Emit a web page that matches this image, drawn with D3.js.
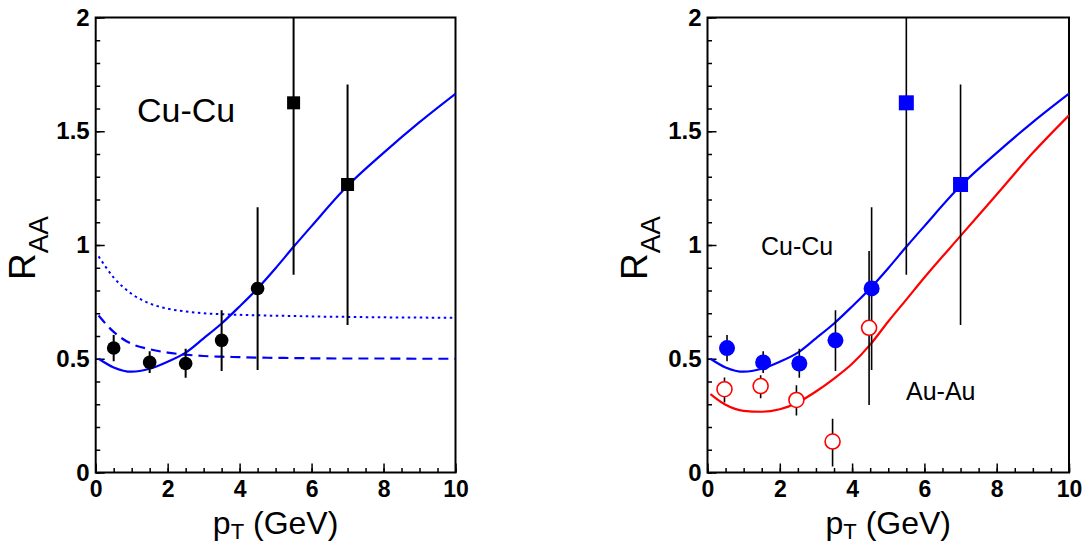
<!DOCTYPE html>
<html>
<head>
<meta charset="utf-8">
<script src="https://cdn.jsdelivr.net/npm/d3@7"></script>
<style>
  body { margin: 0; background: #fff; }
  svg { display: block; font-family: "Liberation Sans", Arial, sans-serif; }
</style>
</head>
<body>
<svg id="chart" width="1084" height="544"></svg>
<script>
// tick values
var xTicks = [0, 2, 4, 6, 8, 10];
var yTicks = [0, 0.5, 1, 1.5, 2];

// Cu-Cu data (circles: low pT, squares: high pT)
var cuPt = [0.5, 1.5, 2.5, 3.5, 4.5];
var cuPtShift = [0.54, 1.54, 2.54, 3.54, 4.54];
var cuRaa = [0.547, 0.484, 0.479, 0.581, 0.809];
var cuLo = [0.489, 0.437, 0.416, 0.446, 0.451];
var cuHi = [0.604, 0.533, 0.544, 0.713, 1.166];

var cuSqPt = [5.5, 7.0];
var cuSqRaa = [1.625, 1.266];
var cuSqLo = [0.869, 0.648];
var cuSqHi = [2.0, 1.706];

// Au-Au data (open circles)
var auPt = [0.47, 1.47, 2.46, 3.46, 4.47];
var auRaa = [0.366, 0.38, 0.319, 0.136, 0.636];
var auLo = [0.308, 0.326, 0.251, 0.026, 0.297];
var auHi = [0.418, 0.427, 0.384, 0.236, 0.974];

// model curves
var curvePt = [0.08, 0.5, 1, 1.5, 2, 2.5, 3, 3.5, 4, 4.5, 5, 5.5, 6, 7, 8, 9, 10];
var cuModel = [0.50, 0.462, 0.443, 0.456, 0.487, 0.527, 0.59, 0.655, 0.73, 0.809, 0.898, 0.992, 1.083, 1.26, 1.405, 1.54, 1.665];
var auModel = [0.345, 0.298, 0.271, 0.267, 0.278, 0.308, 0.356, 0.413, 0.478, 0.562, 0.664, 0.76, 0.857, 1.04, 1.222, 1.405, 1.57];
var dotModel = [0.95, 0.857, 0.785, 0.743, 0.72, 0.708, 0.70, 0.696, 0.693, 0.691, 0.689, 0.688, 0.686, 0.684, 0.682, 0.681, 0.68];
var dashModel = [0.69, 0.618, 0.565, 0.542, 0.527, 0.518, 0.512, 0.509, 0.507, 0.505, 0.504, 0.503, 0.502, 0.501, 0.501, 0.50, 0.50];

var svg = d3.select("#chart");
svg.append("rect").attr("width", 1084).attr("height", 544).attr("fill", "#fff");

function toPoints(xs, ys) {
    return xs.map(function(d, i) { return {x: d, y: ys[i]}; });
}

function drawPanel(id, left, right) {
    var top = 17.5, bottom = 472.5;
    var g = svg.append("g").attr("id", id);

    var x = d3.scaleLinear().domain([0, 10]).range([left, right]);
    var y = d3.scaleLinear().domain([0, 2]).range([bottom, top]);

    g.append("clipPath").attr("id", id + "-clip")
        .append("rect")
        .attr("x", left).attr("y", top)
        .attr("width", right - left).attr("height", bottom - top);

    // minor ticks
    g.append("g")
        .attr("transform", "translate(0," + bottom + ")")
        .call(d3.axisBottom(x).tickValues(d3.range(0, 10.01, 0.5)).tickSize(-4.5).tickSizeOuter(0).tickFormat(""));
    g.append("g")
        .attr("transform", "translate(" + left + ",0)")
        .call(d3.axisLeft(y).tickValues(d3.range(0, 2.001, 0.1)).tickSize(-4.5).tickSizeOuter(0).tickFormat(""));

    // major ticks + labels
    var xAxis = g.append("g")
        .attr("transform", "translate(0," + bottom + ")")
        .call(d3.axisBottom(x).tickValues(xTicks).tickSize(-9).tickSizeOuter(0).tickPadding(8).tickFormat(d3.format("d")));
    xAxis.selectAll("text").style("font-size", "23px").style("font-weight", "bold").attr("fill", "#000");

    var yAxis = g.append("g")
        .attr("transform", "translate(" + left + ",0)")
        .call(d3.axisLeft(y).tickValues(yTicks).tickSize(-9).tickSizeOuter(0).tickPadding(6).tickFormat(function(d) { return d; }));
    yAxis.selectAll("text").style("font-size", "24px").style("font-weight", "bold").attr("fill", "#000");

    g.selectAll(".tick line").attr("stroke", "#000").attr("stroke-width", 1.5);
    g.selectAll(".domain").remove();

    // frame
    g.append("rect")
        .attr("x", left).attr("y", top)
        .attr("width", right - left).attr("height", bottom - top)
        .attr("fill", "none").attr("stroke", "#000").attr("stroke-width", 2);

    // axis titles
    var ytitle = g.append("text")
        .attr("transform", "translate(" + (left - 60.5) + ",248) rotate(-90)")
        .attr("text-anchor", "middle")
        .style("font-size", "37px");
    ytitle.append("tspan").text("R");
    ytitle.append("tspan").attr("dy", 13).style("font-size", "28px").text("AA");

    var xtitle = g.append("text")
        .attr("x", (left + right) / 2)
        .attr("y", 534)
        .attr("text-anchor", "middle")
        .style("font-size", "32px");
    xtitle.append("tspan").text("p");
    xtitle.append("tspan").attr("dy", 5).style("font-size", "22px").text("T");
    xtitle.append("tspan").attr("dy", -5).text(" (GeV)");

    var plot = g.append("g").attr("clip-path", "url(#" + id + "-clip)");
    var line = d3.line()
        .x(function(d) { return x(d.x); })
        .y(function(d) { return y(d.y); })
        .curve(d3.curveMonotoneX);

    return {g: g, plot: plot, x: x, y: y, line: line};
}

function errorBars(p, xs, lo, hi, width) {
    p.plot.selectAll(null)
        .data(xs.map(function(d, i) { return {x: d, lo: lo[i], hi: hi[i]}; }))
        .enter()
        .append("line")
        .attr("x1", function(d) { return p.x(d.x); })
        .attr("x2", function(d) { return p.x(d.x); })
        .attr("y1", function(d) { return p.y(d.lo); })
        .attr("y2", function(d) { return p.y(d.hi); })
        .attr("stroke", "#000")
        .attr("stroke-width", width);
}

// ---------- left panel ----------
var L = drawPanel("left", 95.7, 455.5);

L.plot.append("path")
    .datum(toPoints(curvePt, dotModel))
    .attr("d", L.line)
    .attr("fill", "none").attr("stroke", "#0000ff").attr("stroke-width", 2)
    .attr("stroke-dasharray", "2.5,3.5");
L.plot.append("path")
    .datum(toPoints(curvePt, dashModel))
    .attr("d", L.line)
    .attr("fill", "none").attr("stroke", "#0000ff").attr("stroke-width", 2.2)
    .attr("stroke-dasharray", "10,6");
L.plot.append("path")
    .datum(toPoints(curvePt, cuModel))
    .attr("d", L.line)
    .attr("fill", "none").attr("stroke", "#0000ff").attr("stroke-width", 2.2);

errorBars(L, cuPt, cuLo, cuHi, 2);
errorBars(L, cuSqPt, cuSqLo, cuSqHi, 2);

L.plot.selectAll(".dot")
    .data(toPoints(cuPt, cuRaa))
    .enter()
    .append("circle")
    .attr("class", "dot")
    .attr("cx", function(d) { return L.x(d.x); })
    .attr("cy", function(d) { return L.y(d.y); })
    .attr("r", 6.8)
    .attr("fill", "#000");

L.plot.selectAll(".sq")
    .data(toPoints(cuSqPt, cuSqRaa))
    .enter()
    .append("rect")
    .attr("class", "sq")
    .attr("x", function(d) { return L.x(d.x) - 6.5; })
    .attr("y", function(d) { return L.y(d.y) - 6.5; })
    .attr("width", 13).attr("height", 13)
    .attr("fill", "#000");

L.g.append("text")
    .attr("x", 137).attr("y", 122)
    .style("font-size", "34px")
    .text("Cu-Cu");

// ---------- right panel ----------
var R = drawPanel("right", 707.5, 1069);

R.plot.append("path")
    .datum(toPoints(curvePt, auModel))
    .attr("d", R.line)
    .attr("fill", "none").attr("stroke", "#ff0000").attr("stroke-width", 2.2);
R.plot.append("path")
    .datum(toPoints(curvePt, cuModel))
    .attr("d", R.line)
    .attr("fill", "none").attr("stroke", "#0000ff").attr("stroke-width", 2.2);

errorBars(R, auPt, auLo, auHi, 1.6);
errorBars(R, cuPtShift, cuLo, cuHi, 1.6);
errorBars(R, cuSqPt, cuSqLo, cuSqHi, 1.6);

R.plot.selectAll(".open")
    .data(toPoints(auPt, auRaa))
    .enter()
    .append("circle")
    .attr("class", "open")
    .attr("cx", function(d) { return R.x(d.x); })
    .attr("cy", function(d) { return R.y(d.y); })
    .attr("r", 7.5)
    .attr("fill", "#fff")
    .attr("stroke", "#ff0000")
    .attr("stroke-width", 1.6);

R.plot.selectAll(".dot")
    .data(toPoints(cuPtShift, cuRaa))
    .enter()
    .append("circle")
    .attr("class", "dot")
    .attr("cx", function(d) { return R.x(d.x); })
    .attr("cy", function(d) { return R.y(d.y); })
    .attr("r", 8)
    .attr("fill", "#0000ff");

R.plot.selectAll(".sq")
    .data(toPoints(cuSqPt, cuSqRaa))
    .enter()
    .append("rect")
    .attr("class", "sq")
    .attr("x", function(d) { return R.x(d.x) - 7.5; })
    .attr("y", function(d) { return R.y(d.y) - 7.5; })
    .attr("width", 15).attr("height", 15)
    .attr("fill", "#0000ff");

R.g.append("text")
    .attr("x", 761).attr("y", 255)
    .style("font-size", "25px")
    .text("Cu-Cu");
R.g.append("text")
    .attr("x", 906).attr("y", 400)
    .style("font-size", "25px")
    .text("Au-Au");
</script>
</body>
</html>
